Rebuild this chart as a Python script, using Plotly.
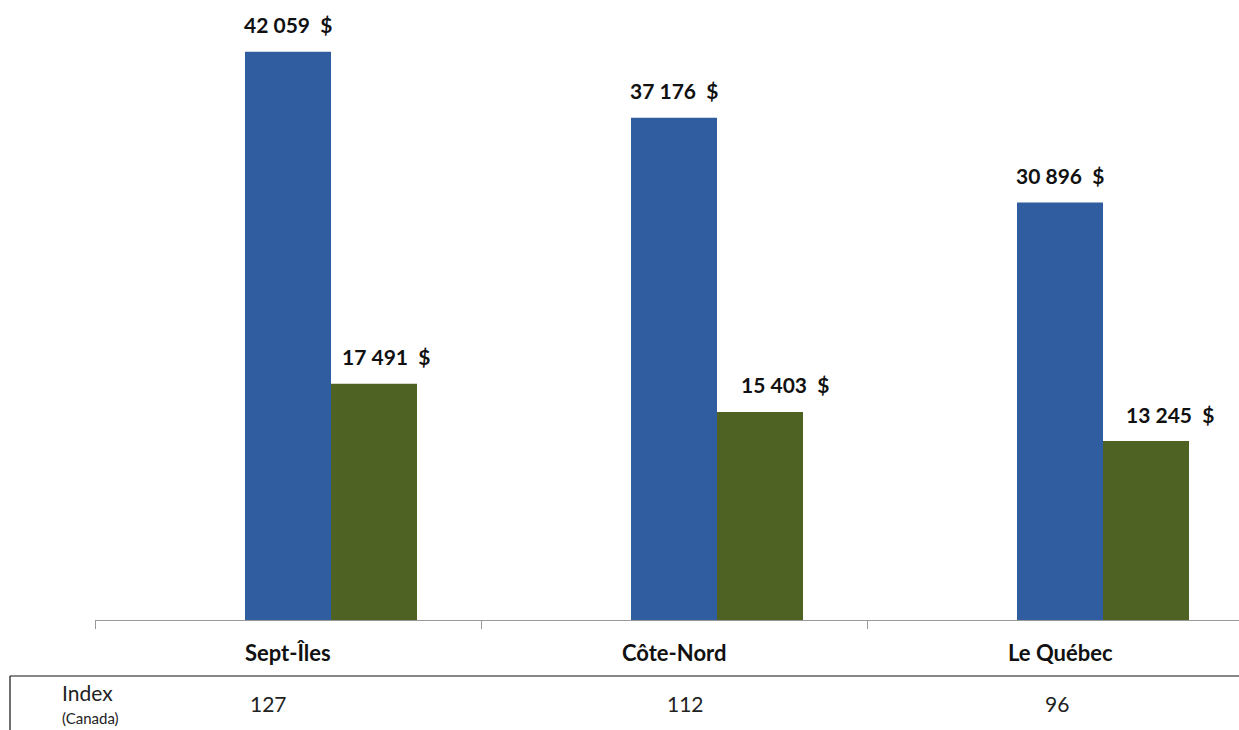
import plotly.graph_objects as go

categories = ["Sept-Îles", "Côte-Nord", "Le Québec"]
blue_values = [42059, 37176, 30896]
green_values = [17491, 15403, 13245]
index_values = [127, 112, 96]

BLUE = "#2F5D9F"
GREEN = "#4E6224"
FONT = "Lato, Calibri, Carlito, sans-serif"

W, H = 1239, 730
L, B = 95, 110
plot_w = W - L
plot_h = H - B
cat_px = 386
bar_w = 86 / cat_px
px_per_unit = 0.01351
y_max = plot_h / px_per_unit

def fmt(v):
    s = f"{v:,}".replace(",", "\u00a0")
    return f"<b>{s}\u00a0\u00a0$</b>"

fig = go.Figure()
fig.add_trace(go.Bar(x=categories, y=blue_values, width=bar_w, offset=-bar_w / 2,
                     marker=dict(color=BLUE, line=dict(width=0)), showlegend=False, hoverinfo="y"))
fig.add_trace(go.Bar(x=categories, y=green_values, width=bar_w, offset=bar_w / 2,
                     marker=dict(color=GREEN, line=dict(width=0)), showlegend=False, hoverinfo="y"))

ann = []
for i, v in enumerate(blue_values):
    ann.append(dict(x=i, y=v, xref="x", yref="y", text=fmt(v), showarrow=False,
                    yanchor="middle", yshift=27, font=dict(family=FONT, size=21, color="#111")))
green_shift = [12, 25, 24]
for i, v in enumerate(green_values):
    ann.append(dict(x=i + bar_w, y=v, xref="x", yref="y", text=fmt(v), showarrow=False,
                    yanchor="middle", yshift=27, xshift=green_shift[i],
                    font=dict(family=FONT, size=21, color="#111")))
for i, c in enumerate(categories):
    ann.append(dict(x=i, y=(plot_h - 652) / plot_h, xref="x", yref="paper", text=f"<b>{c}</b>",
                    showarrow=False, yanchor="middle", font=dict(family=FONT, size=22, color="#111")))
idx_shift = [-20, 11, -3]
for i, v in enumerate(index_values):
    ann.append(dict(x=i, y=(plot_h - 703) / plot_h, xref="x", yref="paper", text=str(v),
                    showarrow=False, yanchor="middle", xshift=idx_shift[i],
                    font=dict(family=FONT, size=21, color="#222")))
ann.append(dict(x=(60 - L) / plot_w, y=(plot_h - 692) / plot_h, xref="paper", yref="paper",
                text="Index", showarrow=False, xanchor="left", yanchor="middle",
                font=dict(family=FONT, size=21, color="#222")))
ann.append(dict(x=(60 - L) / plot_w, y=(plot_h - 718) / plot_h, xref="paper", yref="paper",
                text="(Canada)", showarrow=False, xanchor="left", yanchor="middle",
                font=dict(family=FONT, size=15, color="#222")))

shapes = [
    dict(type="line", xref="paper", yref="paper", x0=(10 - L) / plot_w, x1=1.01,
         y0=(plot_h - 676) / plot_h, y1=(plot_h - 676) / plot_h, line=dict(color="#111", width=1.2)),
    dict(type="line", xref="paper", yref="paper", x0=(10 - L) / plot_w, x1=(10 - L) / plot_w,
         y0=(plot_h - 676) / plot_h, y1=(plot_h - 740) / plot_h, line=dict(color="#111", width=1.2)),
]

fig.update_layout(
    width=W, height=H,
    margin=dict(l=L, r=0, t=0, b=B, pad=0),
    paper_bgcolor="white", plot_bgcolor="white",
    barmode="overlay",
    annotations=ann, shapes=shapes,
    xaxis=dict(type="category", range=[-0.5, -0.5 + plot_w / cat_px], showticklabels=False,
               tickson="boundaries", ticks="outside", ticklen=8, tickcolor="#999",
               showline=True, linecolor="#999", linewidth=1, showgrid=False, zeroline=False,
               fixedrange=True),
    yaxis=dict(range=[0, y_max], visible=False, showgrid=False, zeroline=False, fixedrange=True),
)

fig.write_html("out.html", config={"displayModeBar": False},
               post_script="document.body.style.margin='0';document.body.style.overflow='hidden';")
